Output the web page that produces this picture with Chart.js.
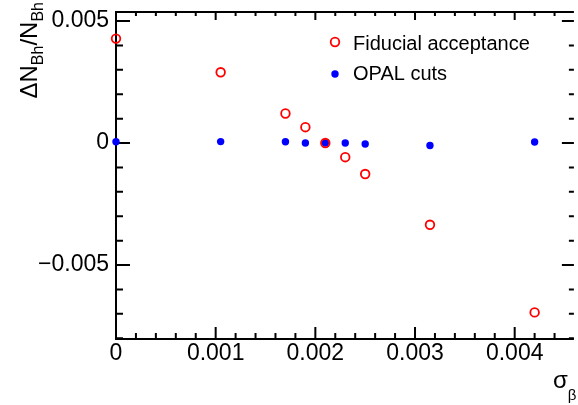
<!DOCTYPE html>
<html>
<head>
<meta charset="utf-8">
<script src="https://cdn.jsdelivr.net/npm/chart.js@4/dist/chart.umd.min.js"></script>
<style>
  html, body { margin: 0; padding: 0; background: #fff; overflow: hidden; }
  canvas { display: block; }
</style>
</head>
<body>
<canvas id="c" width="578" height="405"></canvas>
<script>
// data
const sigmaBeta = [0, 0.00105, 0.0017, 0.0019, 0.0021, 0.0023, 0.0025, 0.00315, 0.0042];
const fiducial  = [0.00428, 0.0029, 0.00121, 0.00065, 0.0, -0.00058, -0.00127, -0.00335, -0.00694];
const opalCuts  = [0.00005, 0.00006, 0.00005, 0.0, 0.0, 0.0, -0.00004, -0.0001, 0.00004];
const seriesNames = ['Fiducial acceptance', 'OPAL cuts'];
const xTickValues = [0, 0.001, 0.002, 0.003, 0.004];
const yTickValues = [-0.005, 0, 0.005];

const FONT = '"Liberation Sans", Arial, Helvetica, sans-serif';

function fmt(v) {
  if (v === 0) return '0';
  return v < 0 ? '\u2212' + String(Math.abs(v)) : String(v);
}

// draw text pieces one after another (for sub-scripts)
function drawPieces(ctx, pieces) {
  let x = 0;
  pieces.forEach(p => {
    ctx.font = p.size + 'px ' + FONT;
    ctx.fillText(p.t, x, p.dy);
    x += ctx.measureText(p.t).width;
  });
  return x;
}
function piecesWidth(ctx, pieces) {
  let w = 0;
  pieces.forEach(p => { ctx.font = p.size + 'px ' + FONT; w += ctx.measureText(p.t).width; });
  return w;
}

// keep the plot box where it is in the reference
function fixBox(s, size) {
  if (s.isHorizontal()) s.height = size; else s.width = size;
  s.paddingTop = 0; s.paddingBottom = 0; s.paddingLeft = 0; s.paddingRight = 0;
}

// ROOT-like frame with inward ticks, titles and legend
// (the right edge of the frame sits just outside the picture)
const framePlugin = {
  id: 'frame',
  beforeDatasetsDraw(chart) {
    const {ctx, chartArea: a, scales: {x, y}} = chart;
    const rightEdge = a.right + 2;
    ctx.save();
    ctx.strokeStyle = '#000';
    ctx.lineWidth = 2;
    ctx.beginPath();
    ctx.moveTo(rightEdge, a.top); ctx.lineTo(a.left, a.top);
    ctx.lineTo(a.left, a.bottom); ctx.lineTo(rightEdge, a.bottom);
    ctx.stroke();
    ctx.beginPath();
    const xStep = 0.0002;
    for (let k = 0; k * xStep <= x.max + 1e-12; k++) {
      const px = x.getPixelForValue(k * xStep);
      const major = k % 5 === 0;
      ctx.moveTo(px, a.bottom); ctx.lineTo(px, a.bottom - (major ? 12 : 6));
      ctx.moveTo(px, a.top); ctx.lineTo(px, a.top + (major ? 8 : 4));
    }
    const yStep = 0.001;
    for (let k = Math.ceil(y.min / yStep); k * yStep <= y.max + 1e-12; k++) {
      const py = y.getPixelForValue(k * yStep);
      const major = k % 5 === 0;
      ctx.moveTo(a.left, py); ctx.lineTo(a.left + (major ? 14 : 7), py);
      ctx.moveTo(rightEdge, py); ctx.lineTo(rightEdge - (major ? 12 : 5), py);
    }
    ctx.stroke();
    ctx.restore();
  },
  afterDraw(chart) {
    const {ctx} = chart;
    ctx.save();
    ctx.fillStyle = '#000';
    ctx.textBaseline = 'alphabetic';
    ctx.textAlign = 'left';

    // y title
    const yt = [
      {t: '\u0394N', size: 24, dy: 0},
      {t: 'Bh', size: 16, dy: 6},
      {t: '/N', size: 24, dy: 0},
      {t: 'Bh', size: 16, dy: 6}
    ];
    const w = piecesWidth(ctx, yt);
    ctx.save();
    ctx.translate(37, 2 + w);
    ctx.rotate(-Math.PI / 2);
    drawPieces(ctx, yt);
    ctx.restore();

    // x title
    ctx.save();
    ctx.translate(553, 388);
    drawPieces(ctx, [{t: '\u03c3', size: 24, dy: 0}, {t: '\u03b2', size: 15, dy: 12}]);
    ctx.restore();

    // legend
    const ds = chart.data.datasets;
    ctx.font = '20px ' + FONT;
    ctx.beginPath();
    ctx.arc(335, 42, 4.3, 0, Math.PI * 2);
    ctx.lineWidth = 1.8;
    ctx.strokeStyle = ds[0].pointBorderColor;
    ctx.stroke();
    ctx.fillText(ds[0].label, 353, 50);
    ctx.beginPath();
    ctx.arc(335, 74, 3.7, 0, Math.PI * 2);
    ctx.fillStyle = ds[1].pointBackgroundColor;
    ctx.fill();
    ctx.fillStyle = '#000';
    ctx.fillText(ds[1].label, 353, 80);
    ctx.restore();
  }
};

new Chart(document.getElementById('c'), {
  type: 'scatter',
  data: {
    datasets: [{
      label: seriesNames[0],
      data: sigmaBeta.map((v, i) => ({x: v, y: fiducial[i]})),
      pointStyle: 'circle',
      pointRadius: 4.3,
      pointBorderWidth: 1.8,
      pointBorderColor: '#ff0000',
      pointBackgroundColor: 'rgba(0,0,0,0)',
      clip: false
    }, {
      label: seriesNames[1],
      data: sigmaBeta.map((v, i) => ({x: v, y: opalCuts[i]})),
      pointStyle: 'circle',
      pointRadius: 3.7,
      pointBorderWidth: 0,
      pointBorderColor: '#0000ff',
      pointBackgroundColor: '#0000ff',
      clip: false
    }]
  },
  options: {
    responsive: false,
    animation: false,
    devicePixelRatio: 1,
    layout: {padding: {top: 12, right: 0, left: 0, bottom: 0}},
    plugins: {legend: {display: false}, tooltip: {enabled: false}},
    scales: {
      x: {
        type: 'linear',
        min: 0,
        max: 0.004574,
        grid: {display: false, drawTicks: false},
        border: {display: false},
        afterBuildTicks: s => { s.ticks = xTickValues.map(v => ({value: v})); },
        afterFit: s => fixBox(s, 66),
        ticks: {
          color: '#000',
          font: {family: FONT, size: 23},
          padding: 1,
          maxRotation: 0,
          autoSkip: false,
          callback: v => fmt(v)
        }
      },
      y: {
        type: 'linear',
        min: -0.00803,
        max: 0.00537,
        grid: {display: false, drawTicks: false},
        border: {display: false},
        afterBuildTicks: s => { s.ticks = yTickValues.map(v => ({value: v})); },
        afterFit: s => fixBox(s, 116),
        ticks: {
          color: '#000',
          font: {family: FONT, size: 23},
          padding: 7,
          autoSkip: false,
          callback: v => fmt(v)
        }
      }
    }
  },
  plugins: [framePlugin]
});
</script>
</body>
</html>
